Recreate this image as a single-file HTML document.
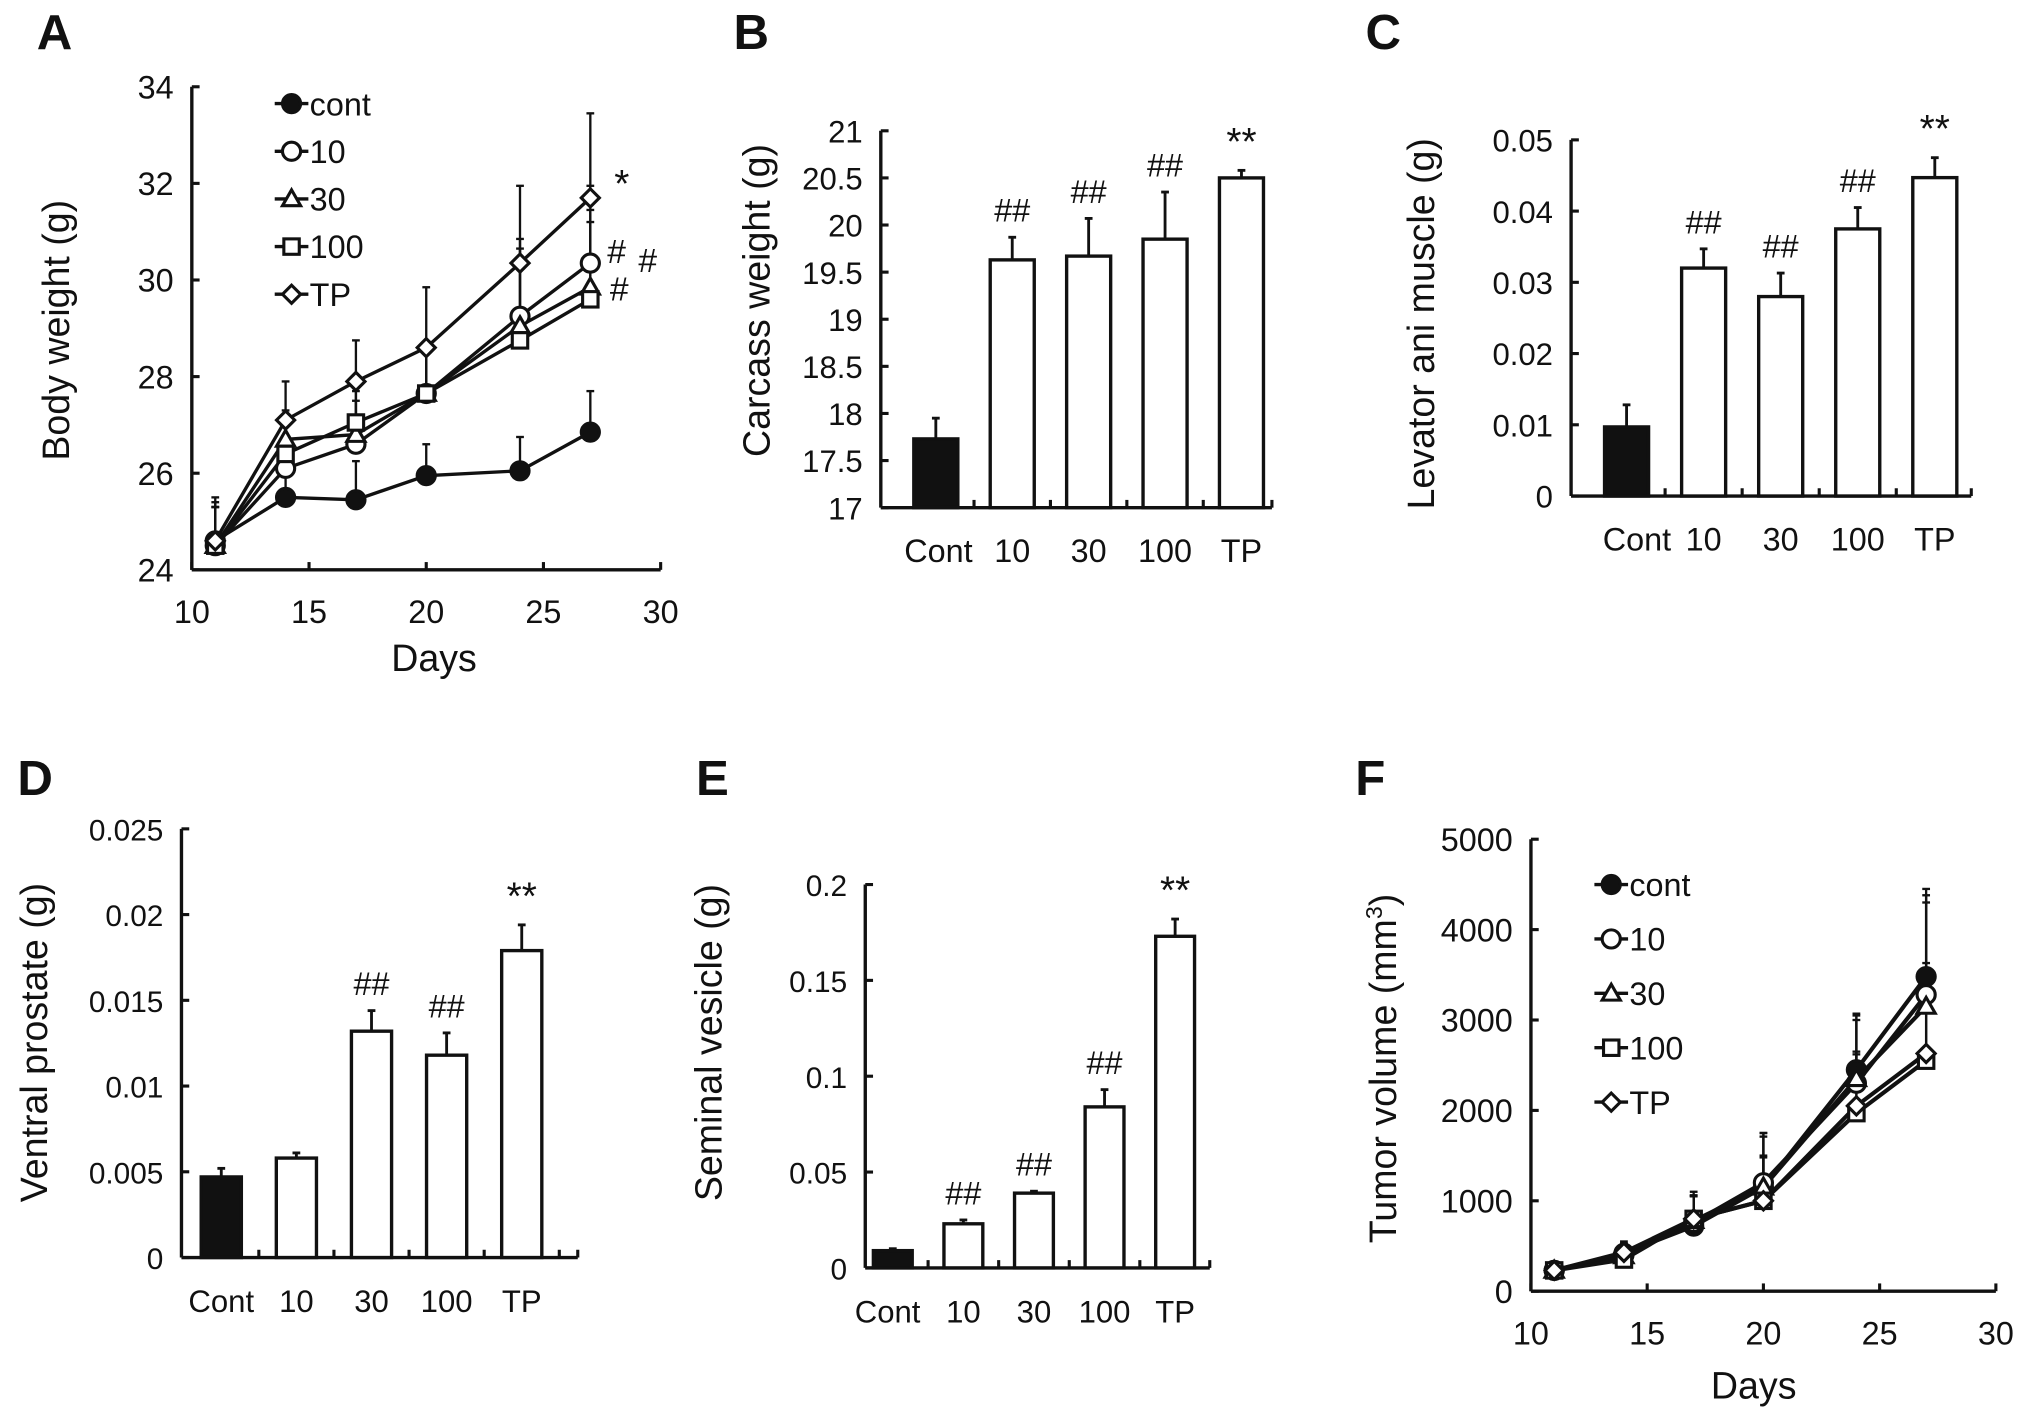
<!DOCTYPE html>
<html><head><meta charset="utf-8"><style>
html,body{margin:0;padding:0;background:#fff}
svg{display:block}
text{font-family:"Liberation Sans",Arial,sans-serif;fill:#111}
</style></head><body>
<svg id="fig" width="2031" height="1422" viewBox="0 0 1568 1098" xmlns="http://www.w3.org/2000/svg"></svg>
<script>
// ---------- Data ----------
const daysA = [11,14,17,20,24,27];
const groupNames = ["cont","10","30","100","TP"];
const bwCont = [24.6,25.5,25.45,25.95,26.05,26.85];
const bw10   = [24.5,26.1,26.6,27.65,29.25,30.35];
const bw30   = [24.5,26.7,26.8,27.65,29.05,29.85];
const bw100  = [24.5,26.4,27.05,27.65,28.75,29.6];
const bwTP   = [24.6,27.1,27.9,28.6,30.35,31.7];
const bwErrCont = [0.8,0.5,0.8,0.65,0.7,0.85];
const bwErr10   = [0.8,0.6,0.9,1.0,1.6,1.6];
const bwErr30   = [0.8,0.6,0.9,1.0,1.6,1.6];
const bwErr100  = [0.8,0.6,0.9,1.0,1.6,1.6];
const bwErrTP   = [0.9,0.8,0.85,1.25,1.6,1.75];
const yTicksA = [24,26,28,30,32,34];
const xTicksDays = [10,15,20,25,30];

const barCats = ["Cont","10","30","100","TP"];
const carcass = [17.73,19.63,19.67,19.85,20.5];
const carcassErr = [0.22,0.24,0.4,0.5,0.08];
const carcassSig = ["","##","##","##","**"];
const yTicksB = ["17","17.5","18","18.5","19","19.5","20","20.5","21"];

const levator = [0.0097,0.032,0.028,0.0375,0.0447];
const levatorErr = [0.0031,0.0027,0.0033,0.003,0.0028];
const levatorSig = ["","##","##","##","**"];
const yTicksC = ["0","0.01","0.02","0.03","0.04","0.05"];

const prostate = [0.0047,0.0058,0.0132,0.0118,0.0179];
const prostateErr = [0.0005,0.0003,0.0012,0.0013,0.0015];
const prostateSig = ["","","##","##","**"];
const yTicksD = ["0","0.005","0.01","0.015","0.02","0.025"];

const vesicle = [0.009,0.023,0.039,0.084,0.173];
const vesicleErr = [0.001,0.002,0.001,0.009,0.009];
const vesicleSig = ["","##","##","##","**"];
const yTicksE = ["0","0.05","0.1","0.15","0.2"];

const tvCont = [230,420,720,1150,2450,3480];
const tv10   = [230,400,760,1200,2300,3280];
const tv30   = [230,390,780,1150,2350,3150];
const tv100  = [230,350,800,1000,1970,2550];
const tvTP   = [230,430,800,1000,2050,2630];
const tvErrCont = [40,130,380,600,600,970];
const tvErr10   = [40,120,300,550,700,1100];
const tvErr30   = [40,130,280,560,720,1150];
const tvErr100  = [40,130,250,500,650,1000];
const tvErrTP   = [40,100,250,480,600,1000];
const yTicksF = [0,1000,2000,3000,4000,5000];

// ---------- helpers ----------
const NS="http://www.w3.org/2000/svg";
const svg=document.getElementById('fig');
function mk(tag,attrs,parent,txt){const e=document.createElementNS(NS,tag);for(const k in attrs)e.setAttribute(k,attrs[k]);if(txt!==undefined)e.textContent=txt;(parent||svg).appendChild(e);return e;}
function grp(name){const g=mk('g',{});


return g;}
function lin(d0,d1,r0,r1){return v=>r0+(v-d0)/(d1-d0)*(r1-r0);}

function panelLetter(g,ch,x,y){const t=mk('text',{x:x,y:y,'font-size':38,'font-weight':'bold','text-anchor':'middle'},g,ch);

}
function yTitle(g,txt,x,y,fs){const t=mk('text',{x:x,y:y,'font-size':fs||29,'text-anchor':'middle',transform:'rotate(-90 '+x+' '+y+')'},g,txt);

return t;}
function xTitle(g,txt,x,y){const t=mk('text',{x:x,y:y,'font-size':29,'text-anchor':'middle'},g,txt);

}

function yAxis(g,ax,yTop,yBot,ticks,sy,fs){
  mk('line',{x1:ax,y1:yTop,x2:ax,y2:yBot,stroke:'#111','stroke-width':2.6},g);
  ticks.forEach(t=>{const y=sy(parseFloat(t));
    mk('line',{x1:ax,y1:y,x2:ax+6,y2:y,stroke:'#111','stroke-width':2.4},g);
    const tx=mk('text',{x:ax-14,y:y+9,'font-size':fs||25,'text-anchor':'end'},g,String(t));
    
    });
}

// ---------- line charts ----------
function lineChart(cfg){
  const g=grp(cfg.name);
  const sx=lin(10,30,cfg.x0,cfg.x1), sy=lin(cfg.ymin,cfg.ymax,cfg.y0,cfg.y1);
  yAxis(g,cfg.x0,cfg.y1,cfg.y0,cfg.yticks,sy,25);
  mk('line',{x1:cfg.x0,y1:cfg.y0,x2:cfg.x1,y2:cfg.y0,stroke:'#111','stroke-width':2.6},g);
  xTicksDays.forEach(d=>{const x=sx(d);
    mk('line',{x1:x,y1:cfg.y0,x2:x,y2:cfg.y0-6,stroke:'#111','stroke-width':2.4},g);
    const t=mk('text',{x:x,y:cfg.y0+41,'font-size':25,'text-anchor':'middle'},g,String(d));
    
    });
  const markers=['fcircle','circle','tri','square','diamond'];
  cfg.series.forEach((s,i)=>{
    const sg=mk('g',{},g);
    
    
    s.vals.forEach((v,j)=>{const x=sx(daysA[j]);
      mk('line',{x1:x,y1:sy(v),x2:x,y2:sy(v+s.err[j]),stroke:'#111','stroke-width':1.8},sg);
      mk('line',{x1:x-3,y1:sy(v+s.err[j]),x2:x+3,y2:sy(v+s.err[j]),stroke:'#111','stroke-width':1.8},sg);});
    const pts=s.vals.map((v,j)=>sx(daysA[j])+','+sy(v)).join(' ');
    mk('polyline',{points:pts,fill:'none',stroke:'#111','stroke-width':cfg.lw},sg);
  });
  cfg.series.forEach((s,i)=>{s.vals.forEach((v,j)=>drawMarker(g,markers[i],sx(daysA[j]),sy(v),cfg.ms));});
  groupNames.forEach((n,i)=>{const y=cfg.legY+i*cfg.legDy;
    const lg=mk('g',{},g);
    
    
    mk('line',{x1:cfg.legX-13,y1:y,x2:cfg.legX+13,y2:y,stroke:'#111','stroke-width':2.6},lg);
    drawMarker(lg,markers[i],cfg.legX,y,cfg.ms);
    mk('text',{x:cfg.legX+14,y:y+9,'font-size':25},lg,n);});
  return {g,sx,sy};
}
function drawMarker(g,type,x,y,r){
  const st={stroke:'#111','stroke-width':2.4,fill:'#fff'};
  let e;
  if(type==='fcircle'){e=mk('circle',Object.assign({cx:x,cy:y,r:r},st,{fill:'#111'}),g);}
  else if(type==='circle'){e=mk('circle',Object.assign({cx:x,cy:y,r:r},st),g);}
  else if(type==='tri'){e=mk('polygon',Object.assign({points:`${x},${y-r} ${x+r},${y+r*0.75} ${x-r},${y+r*0.75}`},st),g);}
  else if(type==='square'){e=mk('rect',Object.assign({x:x-r*0.85,y:y-r*0.85,width:r*1.7,height:r*1.7},st),g);}
  else {e=mk('polygon',Object.assign({points:`${x},${y-r} ${x+r},${y} ${x},${y+r} ${x-r},${y}`},st),g);}
  
  
}

// Panel A
const A=lineChart({name:'panel-a-body-weight',x0:148,x1:510,y0:440,y1:67,ymin:24,ymax:34,yticks:yTicksA,lw:2.6,ms:7,legX:225,legY:80,legDy:36.8,
  series:[{vals:bwCont,err:bwErrCont},{vals:bw10,err:bwErr10},{vals:bw30,err:bwErr30},{vals:bw100,err:bwErr100},{vals:bwTP,err:bwErrTP}]});
panelLetter(A.g,'A',42,38);
yTitle(A.g,'Body weight (g)',53,255);
xTitle(A.g,'Days',335,518);
[['*',480,152],['#',476,203],['#',500,210],['#',478,232]].forEach(a=>{const t=mk('text',{x:a[1],y:a[2],'font-size':a[0]=='*'?30:26,'text-anchor':'middle'},A.g,a[0]);

});

// Panel F
const F=lineChart({name:'panel-f-tumor-volume',x0:1182,x1:1541,y0:997,y1:648,ymin:0,ymax:5000,yticks:yTicksF,lw:3.2,ms:7,legX:1244,legY:683,legDy:42,
  series:[{vals:tvCont,err:tvErrCont},{vals:tv10,err:tvErr10},{vals:tv30,err:tvErr30},{vals:tv100,err:tvErr100},{vals:tvTP,err:tvErrTP}]});
panelLetter(F.g,'F',1058,614);
const ft=yTitle(F.g,'',1078,825);
ft.textContent='Tumor volume (mm';
mk('tspan',{'font-size':18,dy:-11},ft,'3');
mk('tspan',{dy:11},ft,')');
xTitle(F.g,'Days',1354,1080);

// ---------- bar charts ----------
function barChart(cfg){
  const g=grp(cfg.name);
  const sy=lin(parseFloat(cfg.yticks[0]),parseFloat(cfg.yticks[cfg.yticks.length-1]),cfg.y0,cfg.y1);
  yAxis(g,cfg.x0,cfg.y1,cfg.y0,cfg.yticks,sy,cfg.fs);
  mk('line',{x1:cfg.x0,y1:cfg.y0,x2:cfg.x1,y2:cfg.y0,stroke:'#111','stroke-width':2.6},g);
  const n=barCats.length, step=cfg.step, off=cfg.off;
  for(let i=1;i<=n;i++){const x=cfg.x0+(i+off-0.5)*step; if(x<cfg.x1-4) mk('line',{x1:x,y1:cfg.y0,x2:x,y2:cfg.y0-6,stroke:'#111','stroke-width':2.4},g);}
  mk('line',{x1:cfg.x1,y1:cfg.y0,x2:cfg.x1,y2:cfg.y0-6,stroke:'#111','stroke-width':2.4},g);
  barCats.forEach((c,i)=>{
    const cx=cfg.x0+(i+off)*step, v=cfg.vals[i], top=sy(v), e=sy(v+cfg.err[i]);
    mk('line',{x1:cx,y1:top,x2:cx,y2:e,stroke:'#111','stroke-width':2.2},g);
    mk('line',{x1:cx-3,y1:e,x2:cx+3,y2:e,stroke:'#111','stroke-width':2.2},g);
    const r=mk('rect',{x:cx-cfg.bw/2,y:top,width:cfg.bw,height:cfg.y0-top,fill:i===0?'#111':'#fff',stroke:'#111','stroke-width':2.6},g);
    
    
    const t=mk('text',{x:cx+(i===0?cfg.contShift:0),y:cfg.y0+cfg.lblDy,'font-size':cfg.fs+1,'text-anchor':'middle'},g,c);
    
    
    if(cfg.sig[i]){const s=mk('text',{x:cx,y:e-12,'font-size':cfg.sig[i]=='**'?30:25,'text-anchor':'middle'},g,cfg.sig[i]);
      
      }
  });
  return g;
}
const B=barChart({name:'panel-b-carcass',x0:680,x1:982,y0:392,y1:101,yticks:yTicksB,vals:carcass,err:carcassErr,sig:carcassSig,bw:34,fs:24,lblDy:42,contShift:2,step:59,off:0.72});
panelLetter(B,'B',580,38); yTitle(B,'Carcass weight (g)',594,232);
const C=barChart({name:'panel-c-levator',x0:1213,x1:1522,y0:383,y1:108,yticks:yTicksC,vals:levator,err:levatorErr,sig:levatorSig,bw:34,fs:24,lblDy:42,contShift:8,step:59.5,off:0.72});
panelLetter(C,'C',1068,38); yTitle(C,'Levator ani muscle (g)',1107,250);
const D=barChart({name:'panel-d-prostate',x0:140,x1:446,y0:971,y1:640,yticks:yTicksD,vals:prostate,err:prostateErr,sig:prostateSig,bw:31,fs:23,lblDy:42,contShift:0,step:58,off:0.53});
panelLetter(D,'D',27,614); yTitle(D,'Ventral prostate (g)',36,805);
const E=barChart({name:'panel-e-vesicle',x0:668,x1:934,y0:979,y1:683,yticks:yTicksE,vals:vesicle,err:vesicleErr,sig:vesicleSig,bw:30,fs:23,lblDy:42,contShift:-4,step:54.5,off:0.39});
panelLetter(E,'E',550,614); yTitle(E,'Seminal vesicle (g)',557,805);
</script>
</body></html>
